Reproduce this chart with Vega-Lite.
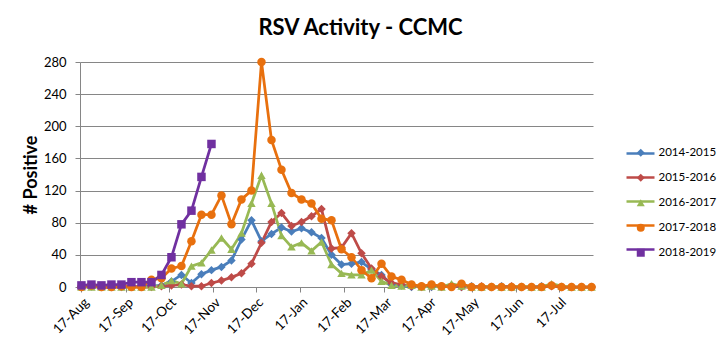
{
  "$schema": "https://vega.github.io/schema/vega-lite/v6.json",
  "width": 513,
  "height": 225,
  "autosize": {"type": "none"},
  "padding": {"left": 80, "top": 62, "right": 132, "bottom": 70},
  "background": "white",
  "title": {"text": "RSV Activity - CCMC", "font": "Lato", "fontSize": 22, "fontWeight": "bold", "color": "#000000", "anchor": "middle", "frame": "group", "dx": 24, "offset": 16},
  "config": {"view": {"stroke": null}, "font": "Lato"},
  "data": {"values": [
    {"season":"2014-2015","week":"2017-08-17","n":0},{"season":"2014-2015","week":"2017-08-24","n":1},{"season":"2014-2015","week":"2017-08-31","n":0},{"season":"2014-2015","week":"2017-09-07","n":0},{"season":"2014-2015","week":"2017-09-14","n":1},{"season":"2014-2015","week":"2017-09-21","n":0},{"season":"2014-2015","week":"2017-09-28","n":1},{"season":"2014-2015","week":"2017-10-05","n":1},{"season":"2014-2015","week":"2017-10-12","n":2},{"season":"2014-2015","week":"2017-10-19","n":7},{"season":"2014-2015","week":"2017-10-26","n":15},{"season":"2014-2015","week":"2017-11-02","n":5},{"season":"2014-2015","week":"2017-11-09","n":16},{"season":"2014-2015","week":"2017-11-16","n":21},{"season":"2014-2015","week":"2017-11-23","n":25},{"season":"2014-2015","week":"2017-11-30","n":33},{"season":"2014-2015","week":"2017-12-07","n":59},{"season":"2014-2015","week":"2017-12-14","n":83},{"season":"2014-2015","week":"2017-12-21","n":57},{"season":"2014-2015","week":"2017-12-28","n":66},{"season":"2014-2015","week":"2018-01-04","n":74},{"season":"2014-2015","week":"2018-01-11","n":69},{"season":"2014-2015","week":"2018-01-18","n":73},{"season":"2014-2015","week":"2018-01-25","n":68},{"season":"2014-2015","week":"2018-02-01","n":61},{"season":"2014-2015","week":"2018-02-08","n":40},{"season":"2014-2015","week":"2018-02-15","n":28},{"season":"2014-2015","week":"2018-02-22","n":29},{"season":"2014-2015","week":"2018-03-01","n":31},{"season":"2014-2015","week":"2018-03-08","n":22},{"season":"2014-2015","week":"2018-03-15","n":15},{"season":"2014-2015","week":"2018-03-22","n":3},{"season":"2014-2015","week":"2018-03-29","n":2},{"season":"2014-2015","week":"2018-04-05","n":0},{"season":"2014-2015","week":"2018-04-12","n":1},{"season":"2014-2015","week":"2018-04-19","n":0},{"season":"2014-2015","week":"2018-04-26","n":1},{"season":"2014-2015","week":"2018-05-03","n":2},{"season":"2014-2015","week":"2018-05-10","n":0},{"season":"2014-2015","week":"2018-05-17","n":1},{"season":"2014-2015","week":"2018-05-24","n":0},{"season":"2014-2015","week":"2018-05-31","n":0},{"season":"2014-2015","week":"2018-06-07","n":1},{"season":"2014-2015","week":"2018-06-14","n":0},{"season":"2014-2015","week":"2018-06-21","n":0},{"season":"2014-2015","week":"2018-06-28","n":0},{"season":"2014-2015","week":"2018-07-05","n":1},{"season":"2014-2015","week":"2018-07-12","n":2},{"season":"2014-2015","week":"2018-07-19","n":0},{"season":"2014-2015","week":"2018-07-26","n":0},{"season":"2014-2015","week":"2018-08-02","n":0},{"season":"2014-2015","week":"2018-08-09","n":0},
    {"season":"2015-2016","week":"2017-08-17","n":0},{"season":"2015-2016","week":"2017-08-24","n":1},{"season":"2015-2016","week":"2017-08-31","n":0},{"season":"2015-2016","week":"2017-09-07","n":0},{"season":"2015-2016","week":"2017-09-14","n":0},{"season":"2015-2016","week":"2017-09-21","n":1},{"season":"2015-2016","week":"2017-09-28","n":0},{"season":"2015-2016","week":"2017-10-05","n":0},{"season":"2015-2016","week":"2017-10-12","n":1},{"season":"2015-2016","week":"2017-10-19","n":2},{"season":"2015-2016","week":"2017-10-26","n":3},{"season":"2015-2016","week":"2017-11-02","n":1},{"season":"2015-2016","week":"2017-11-09","n":1},{"season":"2015-2016","week":"2017-11-16","n":5},{"season":"2015-2016","week":"2017-11-23","n":8},{"season":"2015-2016","week":"2017-11-30","n":12},{"season":"2015-2016","week":"2017-12-07","n":17},{"season":"2015-2016","week":"2017-12-14","n":29},{"season":"2015-2016","week":"2017-12-21","n":55},{"season":"2015-2016","week":"2017-12-28","n":81},{"season":"2015-2016","week":"2018-01-04","n":92},{"season":"2015-2016","week":"2018-01-11","n":76},{"season":"2015-2016","week":"2018-01-18","n":81},{"season":"2015-2016","week":"2018-01-25","n":88},{"season":"2015-2016","week":"2018-02-01","n":97},{"season":"2015-2016","week":"2018-02-08","n":48},{"season":"2015-2016","week":"2018-02-15","n":49},{"season":"2015-2016","week":"2018-02-22","n":67},{"season":"2015-2016","week":"2018-03-01","n":42},{"season":"2015-2016","week":"2018-03-08","n":23},{"season":"2015-2016","week":"2018-03-15","n":13},{"season":"2015-2016","week":"2018-03-22","n":5},{"season":"2015-2016","week":"2018-03-29","n":3},{"season":"2015-2016","week":"2018-04-05","n":1},{"season":"2015-2016","week":"2018-04-12","n":0},{"season":"2015-2016","week":"2018-04-19","n":1},{"season":"2015-2016","week":"2018-04-26","n":0},{"season":"2015-2016","week":"2018-05-03","n":2},{"season":"2015-2016","week":"2018-05-10","n":0},{"season":"2015-2016","week":"2018-05-17","n":0},{"season":"2015-2016","week":"2018-05-24","n":1},{"season":"2015-2016","week":"2018-05-31","n":0},{"season":"2015-2016","week":"2018-06-07","n":0},{"season":"2015-2016","week":"2018-06-14","n":1},{"season":"2015-2016","week":"2018-06-21","n":0},{"season":"2015-2016","week":"2018-06-28","n":0},{"season":"2015-2016","week":"2018-07-05","n":0},{"season":"2015-2016","week":"2018-07-12","n":1},{"season":"2015-2016","week":"2018-07-19","n":0},{"season":"2015-2016","week":"2018-07-26","n":0},{"season":"2015-2016","week":"2018-08-02","n":0},{"season":"2015-2016","week":"2018-08-09","n":0},
    {"season":"2016-2017","week":"2017-08-17","n":0},{"season":"2016-2017","week":"2017-08-24","n":0},{"season":"2016-2017","week":"2017-08-31","n":0},{"season":"2016-2017","week":"2017-09-07","n":0},{"season":"2016-2017","week":"2017-09-14","n":0},{"season":"2016-2017","week":"2017-09-21","n":0},{"season":"2016-2017","week":"2017-09-28","n":0},{"season":"2016-2017","week":"2017-10-05","n":0},{"season":"2016-2017","week":"2017-10-12","n":2},{"season":"2016-2017","week":"2017-10-19","n":8},{"season":"2016-2017","week":"2017-10-26","n":4},{"season":"2016-2017","week":"2017-11-02","n":26},{"season":"2016-2017","week":"2017-11-09","n":30},{"season":"2016-2017","week":"2017-11-16","n":46},{"season":"2016-2017","week":"2017-11-23","n":61},{"season":"2016-2017","week":"2017-11-30","n":47},{"season":"2016-2017","week":"2017-12-07","n":67},{"season":"2016-2017","week":"2017-12-14","n":104},{"season":"2016-2017","week":"2017-12-21","n":139},{"season":"2016-2017","week":"2017-12-28","n":104},{"season":"2016-2017","week":"2018-01-04","n":64},{"season":"2016-2017","week":"2018-01-11","n":50},{"season":"2016-2017","week":"2018-01-18","n":55},{"season":"2016-2017","week":"2018-01-25","n":45},{"season":"2016-2017","week":"2018-02-01","n":56},{"season":"2016-2017","week":"2018-02-08","n":28},{"season":"2016-2017","week":"2018-02-15","n":17},{"season":"2016-2017","week":"2018-02-22","n":15},{"season":"2016-2017","week":"2018-03-01","n":15},{"season":"2016-2017","week":"2018-03-08","n":21},{"season":"2016-2017","week":"2018-03-15","n":7},{"season":"2016-2017","week":"2018-03-22","n":2},{"season":"2016-2017","week":"2018-03-29","n":1},{"season":"2016-2017","week":"2018-04-05","n":2},{"season":"2016-2017","week":"2018-04-12","n":0},{"season":"2016-2017","week":"2018-04-19","n":1},{"season":"2016-2017","week":"2018-04-26","n":0},{"season":"2016-2017","week":"2018-05-03","n":4},{"season":"2016-2017","week":"2018-05-10","n":1},{"season":"2016-2017","week":"2018-05-17","n":0},{"season":"2016-2017","week":"2018-05-24","n":0},{"season":"2016-2017","week":"2018-05-31","n":1},{"season":"2016-2017","week":"2018-06-07","n":0},{"season":"2016-2017","week":"2018-06-14","n":0},{"season":"2016-2017","week":"2018-06-21","n":1},{"season":"2016-2017","week":"2018-06-28","n":0},{"season":"2016-2017","week":"2018-07-05","n":0},{"season":"2016-2017","week":"2018-07-12","n":4},{"season":"2016-2017","week":"2018-07-19","n":1},{"season":"2016-2017","week":"2018-07-26","n":0},{"season":"2016-2017","week":"2018-08-02","n":0},{"season":"2016-2017","week":"2018-08-09","n":0},
    {"season":"2017-2018","week":"2017-08-17","n":0},{"season":"2017-2018","week":"2017-08-24","n":2},{"season":"2017-2018","week":"2017-08-31","n":0},{"season":"2017-2018","week":"2017-09-07","n":0},{"season":"2017-2018","week":"2017-09-14","n":1},{"season":"2017-2018","week":"2017-09-21","n":0},{"season":"2017-2018","week":"2017-09-28","n":0},{"season":"2017-2018","week":"2017-10-05","n":9},{"season":"2017-2018","week":"2017-10-12","n":11},{"season":"2017-2018","week":"2017-10-19","n":23},{"season":"2017-2018","week":"2017-10-26","n":26},{"season":"2017-2018","week":"2017-11-02","n":57},{"season":"2017-2018","week":"2017-11-09","n":90},{"season":"2017-2018","week":"2017-11-16","n":90},{"season":"2017-2018","week":"2017-11-23","n":114},{"season":"2017-2018","week":"2017-11-30","n":78},{"season":"2017-2018","week":"2017-12-07","n":109},{"season":"2017-2018","week":"2017-12-14","n":120},{"season":"2017-2018","week":"2017-12-21","n":280},{"season":"2017-2018","week":"2017-12-28","n":183},{"season":"2017-2018","week":"2018-01-04","n":146},{"season":"2017-2018","week":"2018-01-11","n":117},{"season":"2017-2018","week":"2018-01-18","n":109},{"season":"2017-2018","week":"2018-01-25","n":104},{"season":"2017-2018","week":"2018-02-01","n":85},{"season":"2017-2018","week":"2018-02-08","n":83},{"season":"2017-2018","week":"2018-02-15","n":47},{"season":"2017-2018","week":"2018-02-22","n":37},{"season":"2017-2018","week":"2018-03-01","n":21},{"season":"2017-2018","week":"2018-03-08","n":11},{"season":"2017-2018","week":"2018-03-15","n":29},{"season":"2017-2018","week":"2018-03-22","n":13},{"season":"2017-2018","week":"2018-03-29","n":9},{"season":"2017-2018","week":"2018-04-05","n":3},{"season":"2017-2018","week":"2018-04-12","n":1},{"season":"2017-2018","week":"2018-04-19","n":3},{"season":"2017-2018","week":"2018-04-26","n":1},{"season":"2017-2018","week":"2018-05-03","n":0},{"season":"2017-2018","week":"2018-05-10","n":4},{"season":"2017-2018","week":"2018-05-17","n":0},{"season":"2017-2018","week":"2018-05-24","n":0},{"season":"2017-2018","week":"2018-05-31","n":0},{"season":"2017-2018","week":"2018-06-07","n":0},{"season":"2017-2018","week":"2018-06-14","n":0},{"season":"2017-2018","week":"2018-06-21","n":0},{"season":"2017-2018","week":"2018-06-28","n":0},{"season":"2017-2018","week":"2018-07-05","n":0},{"season":"2017-2018","week":"2018-07-12","n":2},{"season":"2017-2018","week":"2018-07-19","n":0},{"season":"2017-2018","week":"2018-07-26","n":0},{"season":"2017-2018","week":"2018-08-02","n":0},{"season":"2017-2018","week":"2018-08-09","n":0},
    {"season":"2018-2019","week":"2017-08-17","n":2},{"season":"2018-2019","week":"2017-08-24","n":3},{"season":"2018-2019","week":"2017-08-31","n":2},{"season":"2018-2019","week":"2017-09-07","n":3},{"season":"2018-2019","week":"2017-09-14","n":3},{"season":"2018-2019","week":"2017-09-21","n":6},{"season":"2018-2019","week":"2017-09-28","n":6},{"season":"2018-2019","week":"2017-10-05","n":6},{"season":"2018-2019","week":"2017-10-12","n":15},{"season":"2018-2019","week":"2017-10-19","n":37},{"season":"2018-2019","week":"2017-10-26","n":78},{"season":"2018-2019","week":"2017-11-02","n":95},{"season":"2018-2019","week":"2017-11-09","n":137},{"season":"2018-2019","week":"2017-11-16","n":178}
  ]},
  "encoding": {
    "x": {
      "field": "week", "type": "temporal",
      "scale": {"type": "utc", "domain": [{"year": 2017, "month": 8, "date": 16, "utc": true}, {"year": 2018, "month": 8, "date": 10, "utc": true}]},
      "axis": {
        "title": null, "grid": false, "format": "%d-%b",
        "values": [
          {"year": 2017, "month": 8, "date": 17, "utc": true}, {"year": 2017, "month": 9, "date": 17, "utc": true}, {"year": 2017, "month": 10, "date": 17, "utc": true}, {"year": 2017, "month": 11, "date": 17, "utc": true}, {"year": 2017, "month": 12, "date": 17, "utc": true}, {"year": 2018, "month": 1, "date": 17, "utc": true}, {"year": 2018, "month": 2, "date": 17, "utc": true}, {"year": 2018, "month": 3, "date": 17, "utc": true}, {"year": 2018, "month": 4, "date": 17, "utc": true}, {"year": 2018, "month": 5, "date": 17, "utc": true}, {"year": 2018, "month": 6, "date": 17, "utc": true}, {"year": 2018, "month": 7, "date": 17, "utc": true}
        ],
        "labelAngle": -45, "labelAlign": "right", "labelBaseline": "top", "labelPadding": 3,
        "labelFont": "Lato", "labelFontSize": 13.5, "labelColor": "#000000", "labelOverlap": false, "labelFlush": false, "labelBound": false,
        "tickSize": 5, "tickColor": "#868686", "domainColor": "#868686", "domainWidth": 1
      }
    },
    "y": {
      "field": "n", "type": "quantitative",
      "scale": {"domain": [0, 280], "nice": false, "zero": true},
      "axis": {
        "title": "# Positive", "titleFont": "Lato", "titleFontSize": 18, "titleFontWeight": "bold", "titleColor": "#000000", "titlePadding": 3,
        "values": [0, 40, 80, 120, 160, 200, 240, 280],
        "grid": true, "gridColor": "#868686", "gridWidth": 1,
        "labelFont": "Lato", "labelFontSize": 13, "labelColor": "#000000", "labelPadding": 9,
        "tickSize": 5, "tickColor": "#868686", "domainColor": "#868686", "domainWidth": 1
      }
    }
  },
  "layer": [
    {"mark": {"type": "line", "strokeWidth": 2.75},
     "encoding": {"stroke": {"field": "season", "type": "nominal",
       "scale": {"range": ["#4A7EBB", "#BE4B48", "#98B954", "#E8700E", "#7030A0"]},
       "legend": {"title": null, "orient": "none", "legendX": 554, "legendY": 85,
         "symbolType": "M-2.8,0H2.8", "symbolSize": 100, "symbolStrokeWidth": 2.5,
         "rowPadding": 12, "labelOffset": 12, "labelFontSize": 11.5, "labelExpr": "''"}}}},
    {"mark": {"type": "point", "filled": true, "size": 72, "opacity": 1},
     "encoding": {
       "color": {"field": "season", "type": "nominal",
         "scale": {"domain": ["2014-2015", "2015-2016", "2016-2017", "2017-2018", "2018-2019"], "range": ["#4A7EBB", "#BE4B48", "#98B954", "#E8700E", "#7030A0"]},
         "legend": {"title": null, "orient": "none", "legendX": 555, "legendY": 85,
           "symbolSize": 64, "rowPadding": 12, "labelOffset": 12,
           "labelFont": "Lato", "labelFontSize": 11.5, "labelColor": "#000000"}},
       "shape": {"field": "season", "type": "nominal", "legend": null,
         "scale": {"domain": ["2014-2015", "2015-2016", "2016-2017", "2017-2018", "2018-2019"], "range": ["diamond", "diamond", "triangle-up", "circle", "square"]}}}}
  ]
}
